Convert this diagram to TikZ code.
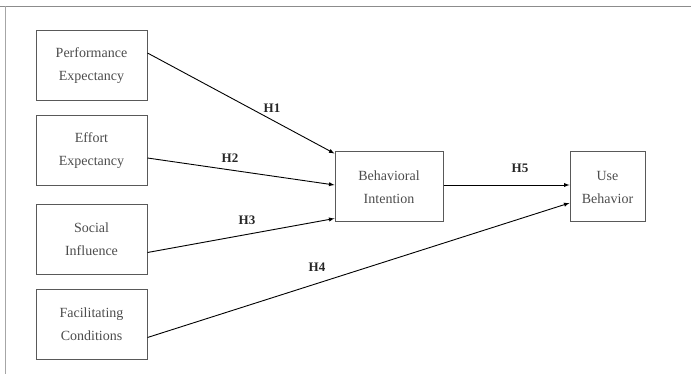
\documentclass[tikz,border=0pt]{standalone}
\usepackage{fontspec}
\setmainfont{Liberation Serif}
\usetikzlibrary{
  arrows,
  positioning
}

\begin{document}
\begin{tikzpicture}[x=1pt, y=-1pt,
  construct/.style = {shape=rectangle, draw=black!65, line width=1pt,
    align=center, text=black!70, font=\fontsize{14}{23}\selectfont},
  hyp/.style = {draw=black, line width=0.9pt, -latex},
  hlabel/.style = {font=\fontsize{13}{15}\selectfont\bfseries, text=black!85}]
  \useasboundingbox (0,0) rectangle (691,374);
  % frame
  \draw[black!45, line width=1.8pt] (0,6.5) -- (691,6.5);
  \draw[black!35, line width=1.5pt] (5.5,6.5) -- (5.5,374);
  % constructs
  \node[construct, minimum width=111pt, minimum height=70pt] (pe) at (91.5,66) {Performance\\Expectancy};
  \node[construct, minimum width=111pt, minimum height=70pt] (ee) at (91.5,151) {Effort\\Expectancy};
  \node[construct, minimum width=111pt, minimum height=70pt] (si) at (91.5,239.5) {Social\\Influence};
  \node[construct, minimum width=111pt, minimum height=70pt] (fc) at (91.5,324.5) {Facilitating\\Conditions};
  \node[construct, minimum width=108pt, minimum height=70pt] (bi) at (389,187) {Behavioral\\Intention};
  \node[construct, minimum width=75pt, minimum height=70pt] (ub) at (607.5,187) {Use\\Behavior};
  % hypotheses
  \draw[hyp] ([yshift=13pt]pe.east) -- ([yshift=-2pt]bi.north west);
  \draw[hyp] ([yshift=-7pt]ee.east) -- ([yshift=2pt]bi.west);
  \draw[hyp] ([yshift=-13pt]si.east) -- ([yshift=4pt]bi.south west);
  \draw[hyp] ([yshift=-13pt]fc.east) -- ([yshift=-16pt]ub.west);
  \draw[hyp] ([yshift=2pt]bi.east) -- ([yshift=2pt]ub.west);
  \node[hlabel] (h1) at (272,108) {H1};
  \node[hlabel] (h2) at (230,158) {H2};
  \node[hlabel] (h3) at (247,220) {H3};
  \node[hlabel] (h4) at (317,267) {H4};
  \node[hlabel] (h5) at (520,168) {H5};
\end{tikzpicture}
\end{document}
